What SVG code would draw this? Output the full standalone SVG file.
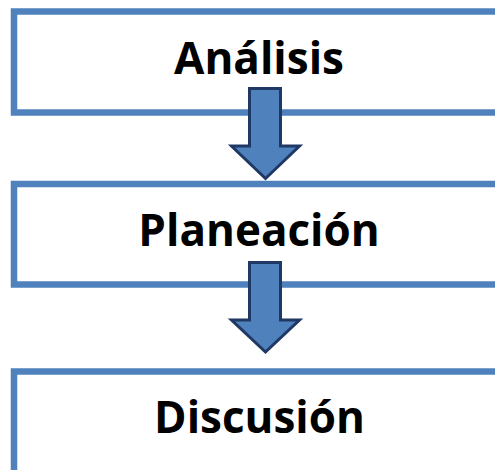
<svg xmlns="http://www.w3.org/2000/svg" width="495" height="470" viewBox="0 0 495 470">
<style>
.box{fill:#fff;stroke:#4F81BD;stroke-width:6.5}
.lbl{font-family:"Open Sans","Noto Sans",sans-serif;font-weight:bold;font-size:44px;fill:#000;text-anchor:middle}
.arr{fill:#4F81BD;stroke:#203864;stroke-width:3;stroke-linejoin:miter}
</style>
<rect width="495" height="470" fill="#fff"/>
<g id="n1"><rect class="box" x="14" y="11.5" width="500" height="101"/><text class="lbl" x="259" y="74">Análisis</text></g>
<g id="n2"><rect class="box" x="14" y="184" width="500" height="100.5"/><text class="lbl" x="259" y="246">Planeación</text></g>
<g id="n3"><rect class="box" x="14" y="371.5" width="500" height="110"/><text class="lbl" x="259.5" y="432.5">Discusión</text></g>
<g id="connectors">
<path class="arr" d="M249.5,88.5 H280.5 V146 H299.5 L265.5,178.5 L231.5,146 H249.5 Z"/>
<path class="arr" d="M249.5,262.5 H280.5 V320 H299.5 L265.5,352 L231.5,320 H249.5 Z"/>
</g>
</svg>
